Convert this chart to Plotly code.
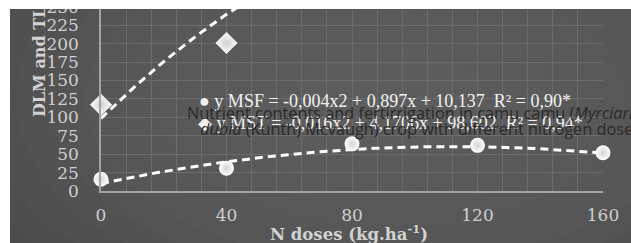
import numpy as np
import plotly.graph_objects as go

# ---- data ----
n_doses = [0, 40, 80, 120, 160]
msf_values = [16, 31, 64, 62, 52]
mst_values = [117, 201, None, None, None]   # later points lie above the visible range

msf_coef = [-0.004, 0.897, 10.137]     # y = a x^2 + b x + c
mst_coef = [-0.016, 4.1706, 98.602]

x_ticks = [0, 40, 80, 120, 160]
y_ticks = [0, 25, 50, 75, 100, 125, 150, 175, 200, 225, 250]

msf_label = "y MSF = -0,004x2 + 0,897x + 10,137\u00a0\u00a0R² = 0,90*"
mst_label = "y MST = -0,016x2 + 4,1706x + 98,602\u00a0\u00a0R² = 0,94*"
caption_1 = "Nutrient contents and fertirrigation in camu camu (<i>Myrciaria</i>"
caption_2 = "<i>dubia</i> (Kunth) Mcvaugh) crop with different nitrogen doses"
x_title = "N doses (kg.ha<sup>-1</sup>)"
y_title = "DLM and TLM (g)"

# ---- layout geometry (pixels) ----
W, H = 631, 243
L, R, T, B = 101, 603, 0, 191
px2x = lambda px: (px - L) / (R - L)
py2y = lambda py: (B - py) / (B - T)
y_top = 259.3

xs = np.linspace(0, 160, 161)
msf_trend = np.polyval(msf_coef, xs)
mst_trend = np.polyval(mst_coef, xs)

fig = go.Figure()
line_style = dict(color="white", width=3, dash="8px,5px")
fig.add_trace(go.Scatter(x=xs, y=mst_trend, mode="lines", line=line_style,
                         showlegend=False, hoverinfo="skip"))
fig.add_trace(go.Scatter(x=xs, y=msf_trend, mode="lines", line=line_style,
                         showlegend=False, hoverinfo="skip"))
fig.add_trace(go.Scatter(x=n_doses, y=mst_values, mode="markers",
                         marker=dict(symbol="diamond", size=17, color="white",
                                     gradient=dict(type="radial", color="#d0d0d0"),
                                     line=dict(width=0)),
                         showlegend=False, cliponaxis=False))
fig.add_trace(go.Scatter(x=n_doses, y=msf_values, mode="markers",
                         marker=dict(symbol="circle", size=15, color="white",
                                     gradient=dict(type="radial", color="#d4d4d4"),
                                     line=dict(width=0)),
                         showlegend=False, cliponaxis=False))

# soft radial background glow
shapes = []
cx, cy = 390, 100
for k in range(12):
    rx = 480 - k * 35
    ry = 260 - k * 19
    shapes.append(dict(type="circle", xref="paper", yref="paper",
                       x0=px2x(cx - rx), x1=px2x(cx + rx),
                       y0=py2y(cy + ry), y1=py2y(cy - ry),
                       fillcolor="white", opacity=0.012, line=dict(width=0), layer="below"))

annotations = [
    dict(text=y_title, textangle=-90, x=px2x(39), y=py2y(118), xref="paper", yref="paper",
         xanchor="center", yanchor="bottom", showarrow=False, borderpad=0,
         font=dict(family="DejaVu Serif", size=16, color="#d2d2d2", weight="bold")),
    dict(text=x_title, x=px2x(349), y=py2y(233), xref="paper", yref="paper",
         xanchor="center", yanchor="middle", showarrow=False, borderpad=0,
         font=dict(family="DejaVu Serif", size=16.5, color="#d2d2d2", weight="bold")),
    dict(text="● " + msf_label, x=px2x(198), y=py2y(101), xref="paper", yref="paper",
         xanchor="left", yanchor="middle", showarrow=False, borderpad=0,
         font=dict(family="Liberation Serif", size=18, color="#f2f2f2")),
    dict(text="◆ " + mst_label, x=px2x(197), y=py2y(123), xref="paper", yref="paper",
         xanchor="left", yanchor="middle", showarrow=False, borderpad=0,
         font=dict(family="Liberation Serif", size=18, color="#f2f2f2")),
    dict(text=caption_1, x=px2x(186), y=py2y(113), xref="paper", yref="paper",
         xanchor="left", yanchor="middle", showarrow=False, borderpad=0,
         font=dict(family="Open Sans", size=16.3, color="#2a2a2a")),
    dict(text=caption_2, x=px2x(199), y=py2y(129), xref="paper", yref="paper",
         xanchor="left", yanchor="middle", showarrow=False, borderpad=0,
         font=dict(family="Open Sans", size=16.3, color="#2a2a2a")),
    # white borders of the cropped picture
    dict(text=" ", x=px2x(0), y=py2y(0), xref="paper", yref="paper",
         xanchor="left", yanchor="top", showarrow=False, borderpad=0, borderwidth=0,
         width=W, height=9, bgcolor="white", font=dict(size=1)),
    dict(text=" ", x=px2x(0), y=py2y(0), xref="paper", yref="paper",
         xanchor="left", yanchor="top", showarrow=False, borderpad=0, borderwidth=0,
         width=10, height=H, bgcolor="white", font=dict(size=1)),
]

fig.update_layout(
    width=W, height=H,
    margin=dict(l=L, r=W - R, t=T, b=H - B, pad=0, autoexpand=False),
    paper_bgcolor="#4a4a4a", plot_bgcolor="rgba(0,0,0,0)",
    showlegend=False,
    shapes=shapes, annotations=annotations,
    xaxis=dict(range=[0, 160], tickvals=x_ticks, ticktext=[str(v) for v in x_ticks],
               automargin=False,
               showgrid=True, gridcolor="#6c6c6c", gridwidth=1,
               minor=dict(dtick=8, showgrid=True, gridcolor="#6c6c6c", gridwidth=1),
               showline=True, linecolor="#a3a3a3", linewidth=1.5,
               zeroline=False, ticks="", ticklabelstandoff=8,
               tickfont=dict(family="DejaVu Serif", size=17, color="#cfcfcf")),
    yaxis=dict(range=[0, y_top], tickvals=y_ticks, ticktext=[str(v) for v in y_ticks],
               automargin=False, ticklabeloverflow="allow",
               showgrid=True, gridcolor="#6c6c6c", gridwidth=1,
               showline=True, linecolor="#a3a3a3", linewidth=1.5,
               zeroline=False, ticks="", ticklabelstandoff=17,
               tickfont=dict(family="DejaVu Serif", size=17, color="#cfcfcf")),
)

fig.write_html("out.html", config={"displayModeBar": False},
               post_script="document.body.style.margin='0';document.body.style.overflow='hidden';")
